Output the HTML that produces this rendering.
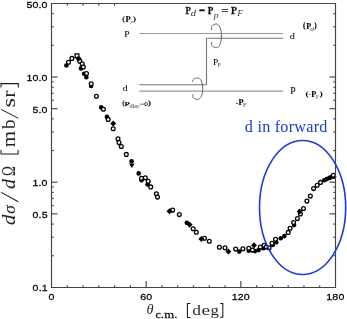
<!DOCTYPE html>
<html><head><meta charset="utf-8"><style>
html,body{margin:0;padding:0;background:#fff;width:347px;height:319px;overflow:hidden;position:relative}
</style></head><body>
<svg width="347" height="319" viewBox="0 0 347 319" style="position:absolute;left:0;top:0;will-change:transform">
<g fill="#000" stroke="none"><circle cx="66.4" cy="65.5" r="2.3"/><circle cx="79.3" cy="59.6" r="2.3"/><circle cx="81.0" cy="68.4" r="2.3"/><circle cx="84.1" cy="73.8" r="2.3"/><circle cx="86.3" cy="77.3" r="2.3"/><circle cx="91.1" cy="86.0" r="2.3"/><circle cx="101.2" cy="107.4" r="2.3"/><circle cx="106.9" cy="116.9" r="2.3"/><circle cx="131.6" cy="161.3" r="2.3"/><circle cx="138.7" cy="173.4" r="2.3"/><circle cx="147.6" cy="184.4" r="2.3"/><circle cx="186.8" cy="222.8" r="2.3"/><circle cx="239.3" cy="251.6" r="2.3"/><circle cx="248.8" cy="250.7" r="2.3"/><circle cx="255.0" cy="251.1" r="2.3"/><circle cx="258.6" cy="250.1" r="2.3"/><circle cx="263.2" cy="248.2" r="2.3"/><circle cx="280.7" cy="238.2" r="2.3"/><circle cx="284.4" cy="236.1" r="2.3"/><circle cx="294.1" cy="225.1" r="2.3"/><circle cx="324.2" cy="180.3" r="2.3"/><circle cx="326.8" cy="179.1" r="2.3"/><circle cx="329.4" cy="177.9" r="2.3"/><circle cx="331.5" cy="177.0" r="2.3"/><circle cx="334.0" cy="176.6" r="2.3"/><circle cx="172.4" cy="210.4" r="2.3"/><circle cx="272.8" cy="245.0" r="2.3"/><circle cx="276.3" cy="242.3" r="2.3"/><circle cx="141.6" cy="180.3" r="2.3"/><circle cx="264.2" cy="247.6" r="2.3"/></g>
<g fill="#fff" stroke="#000" stroke-width="1.3"><circle cx="68.5" cy="62.2" r="1.9"/><circle cx="71.9" cy="58.4" r="1.9"/><rect x="75.1" y="53.9" width="3.8" height="3.8"/><circle cx="79.8" cy="61.3" r="1.9"/><circle cx="82.2" cy="63.7" r="1.9"/><circle cx="83.4" cy="67.0" r="1.9"/><circle cx="86.5" cy="73.5" r="1.9"/><circle cx="91.2" cy="83.7" r="1.9"/><circle cx="96.4" cy="96.3" r="1.9"/><circle cx="103.4" cy="109.2" r="1.9"/><circle cx="108.2" cy="119.4" r="1.9"/><circle cx="113.2" cy="128.8" r="1.9"/><circle cx="118.0" cy="138.7" r="1.9"/><circle cx="119.0" cy="142.6" r="1.9"/><circle cx="121.3" cy="146.5" r="1.9"/><circle cx="126.3" cy="154.4" r="1.9"/><circle cx="141.5" cy="178.2" r="1.9"/><circle cx="145.3" cy="177.8" r="1.9"/><circle cx="148.2" cy="181.3" r="1.9"/><circle cx="150.7" cy="186.9" r="1.9"/><circle cx="156.4" cy="193.8" r="1.9"/><circle cx="157.5" cy="197.1" r="1.9"/><circle cx="172.6" cy="210.0" r="1.9"/><circle cx="179.3" cy="214.6" r="1.9"/><circle cx="193.2" cy="228.8" r="1.9"/><circle cx="196.3" cy="232.3" r="1.9"/><circle cx="204.5" cy="238.2" r="1.9"/><circle cx="209.3" cy="241.3" r="1.9"/><circle cx="219.4" cy="247.2" r="1.9"/><circle cx="225.0" cy="247.8" r="1.9"/><circle cx="235.7" cy="249.1" r="1.9"/><circle cx="242.9" cy="248.8" r="1.9"/><circle cx="248.8" cy="248.2" r="1.9"/><circle cx="252.5" cy="250.1" r="1.9"/><circle cx="260.3" cy="247.0" r="1.9"/><circle cx="264.0" cy="245.3" r="1.9"/><circle cx="266.3" cy="247.0" r="1.9"/><circle cx="269.1" cy="247.8" r="1.9"/><circle cx="272.0" cy="243.2" r="1.9"/><circle cx="275.5" cy="239.2" r="1.9"/><circle cx="288.2" cy="232.4" r="1.9"/><circle cx="290.1" cy="228.2" r="1.9"/><circle cx="293.6" cy="222.6" r="1.9"/><circle cx="297.4" cy="218.6" r="1.9"/><circle cx="300.4" cy="214.0" r="1.9"/><circle cx="303.5" cy="208.5" r="1.9"/><circle cx="306.9" cy="201.1" r="1.9"/><circle cx="310.3" cy="196.1" r="1.9"/><circle cx="313.6" cy="188.6" r="1.9"/><circle cx="317.2" cy="185.3" r="1.9"/><circle cx="320.5" cy="182.4" r="1.9"/><circle cx="333.3" cy="175.3" r="1.9"/></g>
<g fill="#000"><circle cx="78.3" cy="58.6" r="2.3"/><path d="M110.2,123.6L113.2,120.6L116.2,123.6L113.2,126.6Z"/><path d="M128.9,163.6H134.7L131.8,167.9Z"/><path d="M166.5,211.2L169.5,208.2L172.5,211.2L169.5,214.2Z"/><path d="M186.6,224.8L189.6,221.8L192.6,224.8L189.6,227.8Z"/><path d="M198.4,239.1L201.4,236.1L204.4,239.1L201.4,242.1Z"/><path d="M225.4,251.5L228.4,248.5L231.4,251.5L228.4,254.5Z"/><path d="M251.0,245.3L254.0,242.3L257.0,245.3L254.0,248.3Z"/><path d="M296.7,211.6L299.7,208.6L302.7,211.6L299.7,214.6Z"/></g>
<rect x="118" y="5.5" width="210" height="104" fill="#fff"/>
<g stroke="#999" stroke-width="1.1" fill="none">
<line x1="139.3" y1="33.5" x2="283.2" y2="33.5"/>
<line x1="139.3" y1="91.1" x2="283.2" y2="91.1"/>
</g>
<g stroke="#777" stroke-width="1.1" fill="none">
<polyline points="283.2,38.3 206.5,38.3 206.5,84.7 139.3,84.7"/>
</g>
<g stroke="#555" stroke-width="0.9" fill="none">
<path d="M211.8,30.3 C210.5,26 213.5,24 216.3,24 C219.5,24 221.4,29 221.4,35.8 C221.4,43 219.5,47.7 216.3,47.7 C213.5,47.7 210.5,45.5 211.8,42"/>
<path d="M193,82 C191.8,79.5 194.5,78 197.6,78 C200.8,78 202.7,82.5 202.7,88.6 C202.7,95 200.8,99.4 197.6,99.4 C194.5,99.4 191.8,97.5 193,94.2"/>
</g>
<g fill="none" stroke="#444" stroke-width="1.15">
<path d="M51.5,3.5 H335.5 V287.5 H51.5 Z"/>
<line x1="67.28" y1="287.5" x2="67.28" y2="285.30"/><line x1="67.28" y1="3.5" x2="67.28" y2="5.70"/><line x1="83.06" y1="287.5" x2="83.06" y2="285.30"/><line x1="83.06" y1="3.5" x2="83.06" y2="5.70"/><line x1="98.83" y1="287.5" x2="98.83" y2="285.30"/><line x1="98.83" y1="3.5" x2="98.83" y2="5.70"/><line x1="114.61" y1="287.5" x2="114.61" y2="285.30"/><line x1="114.61" y1="3.5" x2="114.61" y2="5.70"/><line x1="130.39" y1="287.5" x2="130.39" y2="285.30"/><line x1="146.17" y1="287.5" x2="146.17" y2="281.00"/><line x1="161.94" y1="287.5" x2="161.94" y2="285.30"/><line x1="177.72" y1="287.5" x2="177.72" y2="285.30"/><line x1="193.50" y1="287.5" x2="193.50" y2="285.30"/><line x1="209.28" y1="287.5" x2="209.28" y2="285.30"/><line x1="225.06" y1="287.5" x2="225.06" y2="285.30"/><line x1="240.83" y1="287.5" x2="240.83" y2="281.00"/><line x1="256.61" y1="287.5" x2="256.61" y2="285.30"/><line x1="272.39" y1="287.5" x2="272.39" y2="285.30"/><line x1="288.17" y1="287.5" x2="288.17" y2="285.30"/><line x1="303.94" y1="287.5" x2="303.94" y2="285.30"/><line x1="319.72" y1="287.5" x2="319.72" y2="285.30"/><line x1="51.5" y1="255.73" x2="53.7" y2="255.73"/><line x1="335.5" y1="255.73" x2="333.3" y2="255.73"/><line x1="51.5" y1="237.21" x2="53.7" y2="237.21"/><line x1="335.5" y1="237.21" x2="333.3" y2="237.21"/><line x1="51.5" y1="224.06" x2="53.7" y2="224.06"/><line x1="335.5" y1="224.06" x2="333.3" y2="224.06"/><line x1="51.5" y1="213.87" x2="57.5" y2="213.87"/><line x1="335.5" y1="213.87" x2="329.5" y2="213.87"/><line x1="51.5" y1="205.54" x2="53.7" y2="205.54"/><line x1="335.5" y1="205.54" x2="333.3" y2="205.54"/><line x1="51.5" y1="198.50" x2="53.7" y2="198.50"/><line x1="335.5" y1="198.50" x2="333.3" y2="198.50"/><line x1="51.5" y1="192.39" x2="53.7" y2="192.39"/><line x1="335.5" y1="192.39" x2="333.3" y2="192.39"/><line x1="51.5" y1="187.01" x2="53.7" y2="187.01"/><line x1="335.5" y1="187.01" x2="333.3" y2="187.01"/><line x1="51.5" y1="182.20" x2="57.5" y2="182.20"/><line x1="335.5" y1="182.20" x2="329.5" y2="182.20"/><line x1="51.5" y1="150.53" x2="53.7" y2="150.53"/><line x1="335.5" y1="150.53" x2="333.3" y2="150.53"/><line x1="51.5" y1="132.01" x2="53.7" y2="132.01"/><line x1="335.5" y1="132.01" x2="333.3" y2="132.01"/><line x1="51.5" y1="118.86" x2="53.7" y2="118.86"/><line x1="335.5" y1="118.86" x2="333.3" y2="118.86"/><line x1="51.5" y1="108.67" x2="57.5" y2="108.67"/><line x1="335.5" y1="108.67" x2="329.5" y2="108.67"/><line x1="51.5" y1="100.34" x2="53.7" y2="100.34"/><line x1="335.5" y1="100.34" x2="333.3" y2="100.34"/><line x1="51.5" y1="93.30" x2="53.7" y2="93.30"/><line x1="335.5" y1="93.30" x2="333.3" y2="93.30"/><line x1="51.5" y1="87.19" x2="53.7" y2="87.19"/><line x1="335.5" y1="87.19" x2="333.3" y2="87.19"/><line x1="51.5" y1="81.81" x2="53.7" y2="81.81"/><line x1="335.5" y1="81.81" x2="333.3" y2="81.81"/><line x1="51.5" y1="77.00" x2="57.5" y2="77.00"/><line x1="335.5" y1="77.00" x2="329.5" y2="77.00"/><line x1="51.5" y1="45.33" x2="53.7" y2="45.33"/><line x1="335.5" y1="45.33" x2="333.3" y2="45.33"/><line x1="51.5" y1="26.81" x2="53.7" y2="26.81"/><line x1="335.5" y1="26.81" x2="333.3" y2="26.81"/><line x1="51.5" y1="13.66" x2="53.7" y2="13.66"/><line x1="335.5" y1="13.66" x2="333.3" y2="13.66"/>
</g>
<ellipse cx="302.6" cy="207.5" rx="43.1" ry="67" fill="none" stroke="#1d3ad6" stroke-width="1.6"/>
<text font-family="Liberation Serif" font-style="italic" font-size="18" fill="#222" transform="matrix(0 -1.1884 1.0000 0 14.700 225.148)">d</text>
<text font-family="Liberation Serif" font-style="italic" font-size="18" fill="#222" transform="matrix(0 -0.9650 0.9094 0 14.740 213.717)">σ</text>
<text font-family="Liberation Serif" font-style="italic" font-size="18" fill="#222" transform="matrix(0 -1.1060 1.0000 0 14.700 189.103)">d</text>
<text font-family="Liberation Serif" font-size="18" fill="#222" transform="matrix(0 -0.7383 1.0000 0 14.700 175.988)">Ω</text>
<text font-family="Liberation Serif" font-size="18" fill="#222" transform="matrix(0 -1.1618 1.0000 0 14.700 147.139)">m</text>
<text font-family="Liberation Serif" font-size="18" fill="#222" transform="matrix(0 -1.0584 1.0000 0 14.700 129.100)">b</text>
<text font-family="Liberation Serif" font-size="18" fill="#222" transform="matrix(0 -1.3532 1.0000 0 14.700 107.499)">s</text>
<text font-family="Liberation Serif" font-size="18" fill="#222" transform="matrix(0 -1.1506 1.0000 0 14.700 97.415)">r</text>
<g stroke="#1a1a1a" fill="none" stroke-width="1.05"><path d="M18.3,201.8 L1.2,192.4"/><path d="M18.4,118.4 L1.2,109.4"/><path d="M1,150 V154 H18.1 V150" /><path d="M1,87.5 V83.6 H18.3 V87.5" /><path d="M190.4,303.4 H187.4 V317.4 H190.4" /><path d="M220.2,303.4 H222.8 V317.2 H220.2" /></g>
<text font-family="Liberation Serif" font-style="italic" font-size="15" fill="#2a2a2a" transform="matrix(0.9548 0 0 0.9591 146.401 314.160)">θ</text>
<text font-family="Liberation Serif" font-size="10.5" fill="#111" stroke="#111" stroke-width="0.25" transform="matrix(1.1429 0 0 1.0000 155.443 318.000)">c</text>
<text font-family="Liberation Serif" font-size="10.5" fill="#111" stroke="#111" stroke-width="0.25" transform="matrix(1.2090 0 0 1.0000 160.663 318.000)">.</text>
<text font-family="Liberation Serif" font-size="10.5" fill="#111" stroke="#111" stroke-width="0.25" transform="matrix(1.2078 0 0 1.0000 164.234 318.000)">m</text>
<text font-family="Liberation Serif" font-size="10.5" fill="#111" stroke="#111" stroke-width="0.25" transform="matrix(1.2090 0 0 1.0000 174.163 318.000)">.</text>
<text font-family="Liberation Serif" font-size="15" fill="#2a2a2a" transform="matrix(1.1661 0 0 1.0000 192.268 314.800)">d</text>
<text font-family="Liberation Serif" font-size="15" fill="#2a2a2a" transform="matrix(1.2969 0 0 1.0000 201.440 314.800)">e</text>
<text font-family="Liberation Serif" font-size="15" fill="#2a2a2a" transform="matrix(1.1111 0 0 1.0000 210.384 314.800)">g</text>
<text font-family="Liberation Serif" font-weight="bold" font-size="11" fill="#111" stroke="#111" stroke-width="0.3" transform="matrix(0.8039 0 0 0.9858 185.449 13.700)">P</text>
<text font-family="Liberation Serif" font-style="italic" font-size="8" fill="#333" transform="matrix(1.3237 0 0 1.0652 190.679 16.413)">d</text>
<text font-family="Liberation Serif" font-size="11" fill="#111" stroke="#111" stroke-width="0.2" transform="matrix(1.0159 0 0 2.3729 199.043 19.317)">−</text>
<text font-family="Liberation Serif" font-weight="bold" font-size="11" fill="#111" stroke="#111" stroke-width="0.3" transform="matrix(0.8360 0 0 0.9996 207.643 13.900)">P</text>
<text font-family="Liberation Serif" font-style="italic" font-size="8" fill="#333" transform="matrix(1.1830 0 0 0.9502 213.755 17.682)">p</text>
<text font-family="Liberation Serif" font-size="11" fill="#111" stroke="#111" stroke-width="0.2" transform="matrix(1.1526 0 0 1.0909 221.269 15.284)">=</text>
<text font-family="Liberation Serif" font-weight="bold" font-size="11" fill="#111" stroke="#111" stroke-width="0.3" transform="matrix(0.9004 0 0 0.9996 231.031 13.700)">P</text>
<text font-family="Liberation Serif" font-style="italic" font-size="8" fill="#333" transform="matrix(1.1609 0 0 1.0881 237.350 16.300)">F</text>
<text font-family="Liberation Serif" font-weight="bold" font-size="6.5" fill="#000" stroke="#000" stroke-width="0.1" transform="matrix(1.1381 0 0 1.0689 122.325 21.171)">(</text>
<text font-family="Liberation Serif" font-weight="bold" font-size="6.5" fill="#000" stroke="#000" stroke-width="0.1" transform="matrix(1.3060 0 0 1.1278 125.405 21.750)">P</text>
<text font-family="Liberation Serif" font-style="italic" font-size="4.5" fill="#444" transform="matrix(1.0095 0 0 0.8446 130.466 22.791)">p</text>
<text font-family="Liberation Serif" font-weight="bold" font-size="6.5" fill="#000" stroke="#000" stroke-width="0.1" transform="matrix(1.2579 0 0 1.0689 133.187 21.171)">)</text>
<text font-family="Liberation Serif" font-size="7" fill="#000" stroke="#000" stroke-width="0.05" transform="matrix(1.3778 0 0 1.1781 124.222 37.100)">P</text>
<text font-family="Liberation Serif" font-size="7" fill="#000" stroke="#000" stroke-width="0.05" transform="matrix(1.4549 0 0 1.2182 289.632 39.017)">d</text>
<text font-family="Liberation Serif" font-weight="bold" font-size="6.5" fill="#000" stroke="#000" stroke-width="0.1" transform="matrix(1.1980 0 0 1.1538 303.108 28.153)">(</text>
<text font-family="Liberation Serif" font-weight="bold" font-size="6.5" fill="#000" stroke="#000" stroke-width="0.1" transform="matrix(1.2516 0 0 1.2688 306.211 28.850)">P</text>
<text font-family="Liberation Serif" font-style="italic" font-size="4.5" fill="#444" transform="matrix(1.6472 0 0 1.4202 310.276 30.534)">d</text>
<text font-family="Liberation Serif" font-weight="bold" font-size="6.5" fill="#000" stroke="#000" stroke-width="0.1" transform="matrix(1.1381 0 0 1.1538 314.212 28.153)">)</text>
<text font-family="Liberation Serif" font-size="7" fill="#000" stroke="#000" stroke-width="0.05" transform="matrix(1.3485 0 0 1.2218 212.928 64.500)">P</text>
<text font-family="Liberation Serif" font-size="4.5" fill="#444" transform="matrix(1.4024 0 0 1.4593 217.618 66.600)">F</text>
<text font-family="Liberation Serif" font-size="7" fill="#000" stroke="#000" stroke-width="0.05" transform="matrix(1.3601 0 0 1.1776 122.656 91.020)">d</text>
<text font-family="Liberation Serif" font-weight="bold" font-size="6.5" fill="#000" stroke="#000" stroke-width="0.1" transform="matrix(1.1381 0 0 1.0011 122.125 105.465)">(</text>
<text font-family="Liberation Serif" font-weight="bold" font-size="6.5" fill="#000" stroke="#000" stroke-width="0.1" transform="matrix(1.3332 0 0 1.0338 124.502 106.050)">P</text>
<text font-family="Liberation Serif" font-size="6" fill="#333" transform="matrix(1.0579 0 0 0.9001 129.571 108.347)">disc</text>
<text font-family="Liberation Serif" font-size="6.5" fill="#444" transform="matrix(1.2894 0 0 0.9846 139.683 106.225)">=</text>
<text font-family="Liberation Serif" font-size="6.5" fill="#000" stroke="#000" stroke-width="0.1" transform="matrix(1.1253 0 0 1.0943 144.321 106.331)">0</text>
<text font-family="Liberation Serif" font-weight="bold" font-size="6.5" fill="#000" stroke="#000" stroke-width="0.1" transform="matrix(1.3777 0 0 1.0011 148.061 105.465)">)</text>
<text font-family="Liberation Serif" font-size="6.5" fill="#555" transform="matrix(1.1253 0 0 1.6475 235.829 105.523)">-</text>
<text font-family="Liberation Serif" font-weight="bold" font-size="6.5" fill="#000" stroke="#000" stroke-width="0.1" transform="matrix(1.2788 0 0 1.3393 238.608 104.850)">P</text>
<text font-family="Liberation Serif" font-size="4.5" fill="#444" transform="matrix(1.3572 0 0 1.3915 243.024 106.700)">F</text>
<text font-family="Liberation Serif" font-size="7" fill="#000" stroke="#000" stroke-width="0.05" transform="matrix(1.3778 0 0 1.3963 290.322 94.100)">P</text>
<text font-family="Liberation Serif" font-weight="bold" font-size="6.5" fill="#000" stroke="#000" stroke-width="0.1" transform="matrix(1.3777 0 0 1.0180 305.456 95.841)">(</text>
<text font-family="Liberation Serif" font-size="6.5" fill="#555" transform="matrix(1.0068 0 0 1.6475 308.857 96.923)">-</text>
<text font-family="Liberation Serif" font-weight="bold" font-size="6.5" fill="#000" stroke="#000" stroke-width="0.1" transform="matrix(1.2516 0 0 1.3627 311.311 96.850)">P</text>
<text font-family="Liberation Serif" font-size="4.5" fill="#444" transform="matrix(1.0858 0 0 1.4254 315.959 98.900)">F</text>
<text font-family="Liberation Serif" font-weight="bold" font-size="6.5" fill="#000" stroke="#000" stroke-width="0.1" transform="matrix(1.3777 0 0 1.0180 319.761 95.841)">)</text>
<text font-family="Liberation Sans" font-size="9.8" fill="#000" stroke="#000" stroke-width="0.25" transform="matrix(1.08 0 0 1 26.43 7.72)"><tspan x="0.00" y="0">5</tspan><tspan x="5.60" y="0">0</tspan><tspan x="11.20" y="0">.</tspan><tspan x="14.07" y="0">0</tspan></text>
<text font-family="Liberation Sans" font-size="9.8" fill="#000" stroke="#000" stroke-width="0.25" transform="matrix(1.08 0 0 1 26.43 80.82)"><tspan x="0.00" y="0">1</tspan><tspan x="5.60" y="0">0</tspan><tspan x="11.20" y="0">.</tspan><tspan x="14.07" y="0">0</tspan></text>
<text font-family="Liberation Sans" font-size="9.8" fill="#000" stroke="#000" stroke-width="0.25" transform="matrix(1.08 0 0 1 32.48 113.22)"><tspan x="0.00" y="0">5</tspan><tspan x="5.60" y="0">.</tspan><tspan x="8.47" y="0">0</tspan></text>
<text font-family="Liberation Sans" font-size="9.8" fill="#000" stroke="#000" stroke-width="0.25" transform="matrix(1.08 0 0 1 32.48 186.02)"><tspan x="0.00" y="0">1</tspan><tspan x="5.60" y="0">.</tspan><tspan x="8.47" y="0">0</tspan></text>
<text font-family="Liberation Sans" font-size="9.8" fill="#000" stroke="#000" stroke-width="0.25" transform="matrix(1.08 0 0 1 32.51 217.52)"><tspan x="0.00" y="0">0</tspan><tspan x="5.60" y="0">.</tspan><tspan x="8.47" y="0">5</tspan></text>
<text font-family="Liberation Sans" font-size="9.8" fill="#000" stroke="#000" stroke-width="0.25" transform="matrix(1.08 0 0 1 32.58 291.22)"><tspan x="0.00" y="0">0</tspan><tspan x="5.60" y="0">.</tspan><tspan x="8.47" y="0">1</tspan></text>
<text font-family="Liberation Sans" font-size="9.8" fill="#000" stroke="#000" stroke-width="0.25" transform="matrix(1.08 0 0 1 48.56 300.02)"><tspan x="0.00" y="0">0</tspan></text>
<text font-family="Liberation Sans" font-size="9.8" fill="#000" stroke="#000" stroke-width="0.25" transform="matrix(1.08 0 0 1 140.27 300.02)"><tspan x="0.00" y="0">6</tspan><tspan x="5.60" y="0">0</tspan></text>
<text font-family="Liberation Sans" font-size="9.8" fill="#000" stroke="#000" stroke-width="0.25" transform="matrix(1.08 0 0 1 231.71 300.02)"><tspan x="0.00" y="0">1</tspan><tspan x="5.60" y="0">2</tspan><tspan x="11.20" y="0">0</tspan></text>
<text font-family="Liberation Sans" font-size="9.8" fill="#000" stroke="#000" stroke-width="0.25" transform="matrix(1.08 0 0 1 326.31 300.02)"><tspan x="0.00" y="0">1</tspan><tspan x="5.60" y="0">8</tspan><tspan x="11.20" y="0">0</tspan></text>
<text font-family="Liberation Serif" font-size="16.2" fill="#1d3ad6" x="244.8" y="132.3" textLength="82.6" lengthAdjust="spacing">d in forward</text>
</svg>
</body></html>
